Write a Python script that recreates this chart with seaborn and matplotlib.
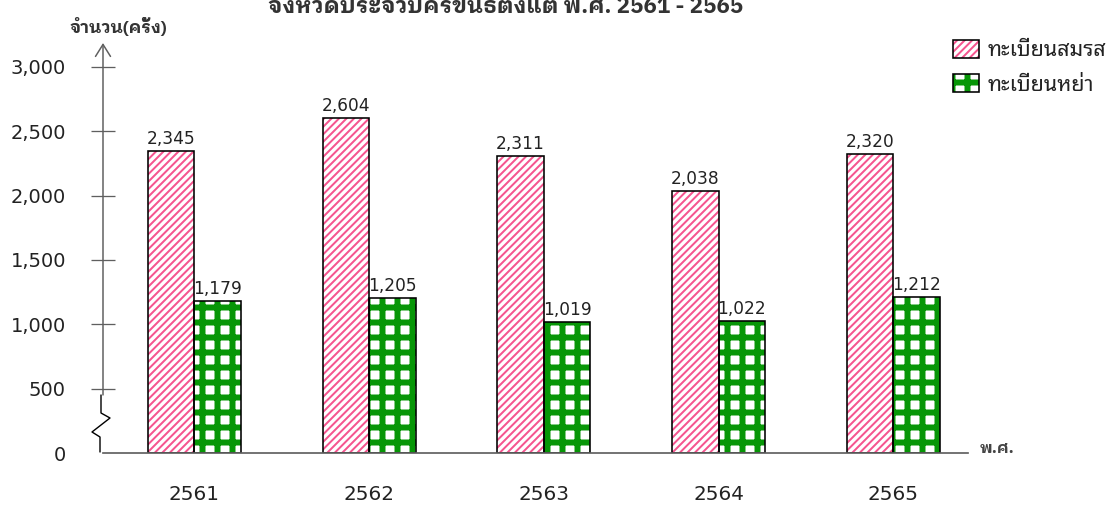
import matplotlib
matplotlib.use("Agg")
import matplotlib.pyplot as plt
import matplotlib.patches as mpatches
import seaborn as sns
import pandas as pd

# ---------------- data ----------------
years = ["2561", "2562", "2563", "2564", "2565"]
marriage = [2345, 2604, 2311, 2038, 2320]
divorce = [1179, 1205, 1019, 1022, 1212]
series_names = ["ทะเบียนสมรส", "ทะเบียนหย่า"]
ytick_values = [0, 500, 1000, 1500, 2000, 2500, 3000]
ytick_labels = ["0", "500", "1,000", "1,500", "2,000", "2,500", "3,000"]
title_text = "จังหวัดประจวบคีรีขันธ์ตั้งแต่ พ.ศ. 2561 - 2565"
ylabel_text = "จำนวน(ครั้ง)"
xunit_text = "พ.ศ."

DPI = 90
W, H = 1107, 509


def pt(px):
    return px * 72.0 / DPI


sns.set_theme(style="white")
plt.rcParams["font.family"] = ["DejaVu Sans"]
THAI = ["Noto Sans Thai Looped", "DejaVu Sans"]
THAI_BOLD = ["IBM Plex Sans Thai Looped", "Noto Sans Thai Looped", "DejaVu Sans"]

PINK = "#F5558F"
GREEN = "#079607"
GRAY = "#5f5f5f"

df = pd.DataFrame({
    "year": years * 2,
    "count": marriage + divorce,
    "type": [series_names[0]] * len(years) + [series_names[1]] * len(years),
})

fig = plt.figure(figsize=(W / DPI, H / DPI), dpi=DPI)
ax = fig.add_axes([103 / W, 1 - 453 / H, 865 / W, 410 / H])

sns.barplot(data=df, x="year", y="count", hue="type", order=years,
            hue_order=series_names, width=0.532, errorbar=None,
            saturation=1, legend=False, ax=ax)

styles = [dict(hatch="////", color=PINK, hlw=pt(2.0)),
          dict(hatch="+", color=GREEN, hlw=pt(6.0))]


def with_hatch_lw(artist, lw):
    orig = artist.draw

    def draw(renderer, *args, **kwargs):
        with plt.rc_context({"hatch.linewidth": lw}):
            return orig(renderer, *args, **kwargs)
    artist.draw = draw
    if hasattr(artist, "set_hatch_linewidth"):
        artist.set_hatch_linewidth(lw)


for cont, st, vals in zip(ax.containers, styles, [marriage, divorce]):
    for p in cont.patches:
        p.set_facecolor("white")
        p.set_edgecolor(st["color"])
        p.set_hatch(st["hatch"])
        p.set_linewidth(0)
        with_hatch_lw(p, st["hlw"])
        outline = mpatches.Rectangle(p.get_xy(), p.get_width(), p.get_height(),
                                     fill=False, edgecolor="black", lw=pt(1.6),
                                     zorder=p.get_zorder() + 0.1)
        ax.add_patch(outline)
    ax.bar_label(cont, labels=[f"{v:,}" for v in vals], padding=pt(3),
                 fontsize=pt(17), color="#222222")

ax.set_xlim(-0.523, 4.428)
ax.set_ylim(0, 3186)
ax.set_xlabel("")
ax.set_ylabel("")
ax.set_yticks(ytick_values, ytick_labels)
ax.tick_params(axis="y", direction="inout", length=pt(24), width=pt(1.3),
               color=GRAY, pad=pt(25), labelsize=pt(19.5), labelcolor="#222222",
               left=True)
ax.yaxis.get_major_ticks()[0].tick1line.set_visible(False)
ax.tick_params(axis="x", length=0, pad=pt(32), labelsize=pt(20),
               labelcolor="#222222")

for s in ["left", "top", "right"]:
    ax.spines[s].set_visible(False)
ax.spines["bottom"].set_color(GRAY)
ax.spines["bottom"].set_linewidth(pt(1.7))

# y axis with arrow and break
trans = ax.get_yaxis_transform()
ax.annotate("", xy=(0, 3186), xycoords=trans, xytext=(0, 451), textcoords=trans,
            arrowprops=dict(arrowstyle="->,head_length=0.4,head_width=0.25",
                            color=GRAY, lw=pt(1.5), mutation_scale=pt(30),
                            shrinkA=0, shrinkB=0),
            annotation_clip=False)
zz_px_x = [101, 101, 110, 92, 100, 100]
zz_px_y = [395, 413, 418, 432, 437, 452]
ax.plot([(x - 103) / 865 for x in zz_px_x], [(453 - y) / (410 / 3186) for y in zz_px_y],
        transform=trans, color="black", lw=pt(1.4), clip_on=False)

# texts
fig.text(506 / W, 1 - 13 / H, title_text, ha="center", va="baseline",
         fontsize=pt(22.2), fontweight="bold", color="#333333", family=THAI_BOLD)
fig.text(118 / W, 1 - 33 / H, ylabel_text, ha="center", va="baseline",
         fontsize=pt(17.2), fontweight="bold", color="#333333", family=THAI_BOLD)
fig.text(980 / W, 1 - 453 / H, xunit_text, ha="left", va="baseline",
         fontsize=pt(16), fontweight="bold", color="#444444", family=THAI_BOLD)

# legend
handles = []
for st in styles:
    hp = mpatches.Patch(facecolor="white", edgecolor=st["color"], hatch=st["hatch"], lw=0)
    op = mpatches.Patch(fill=False, edgecolor="black", lw=pt(1.6))
    handles.append((hp, op))
leg = fig.legend(handles, series_names, loc="upper left",
                 bbox_to_anchor=(953 / W, 1 - 40 / H),
                 frameon=False, prop=dict(family=THAI, size=pt(21.5)),
                 handlelength=1.2, handleheight=0.9, handletextpad=0.4,
                 labelspacing=0.6, borderpad=0, borderaxespad=0,
                 labelcolor="#222222")
for lh, st in zip(leg.legend_handles, styles):
    with_hatch_lw(lh, st["hlw"])

fig.savefig("out.png", dpi=DPI)
